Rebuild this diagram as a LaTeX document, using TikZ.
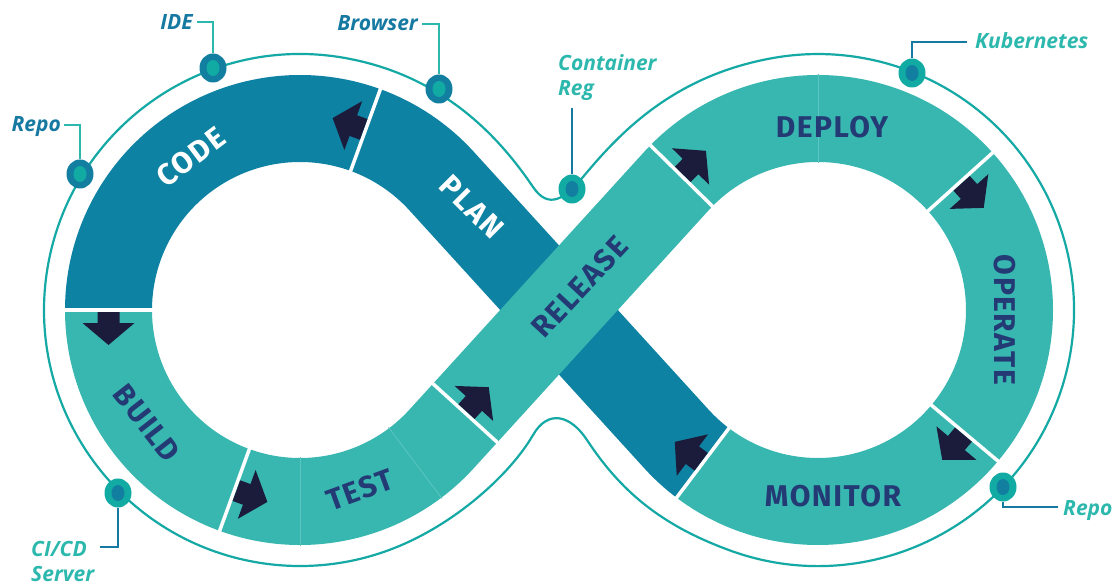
\documentclass[tikz,border=0pt]{standalone}
\usepackage{fontspec}
\newfontfamily\callfont{Open Sans}
\newfontfamily\bandfont{Fira Sans}[LetterSpace=5]
\usetikzlibrary{calc,shapes.geometric}

\definecolor{bandDark}{HTML}{0E82A2}
\definecolor{bandTeal}{HTML}{38B7B1}
\definecolor{seamTeal}{HTML}{5CC5BF}
\definecolor{rimTeal}{HTML}{14A9A4}
\definecolor{labelNavy}{HTML}{233A74}
\definecolor{arrowNavy}{HTML}{1B1C3C}
\definecolor{tagBlue}{HTML}{1679A1}
\definecolor{tagTeal}{HTML}{2DB8AE}
\definecolor{dotDark}{HTML}{127FA1}
\definecolor{dotTeal}{HTML}{11ABA4}

\tikzset{
  band/.style={line width=87pt, line cap=butt},
  darkband/.style={band, draw=bandDark},
  tealband/.style={band, draw=bandTeal},
  divider/.style={draw=white, line width=3.5pt},
  seam/.style={draw=seamTeal, line width=0.8pt},
  rim/.style={draw=rimTeal, line width=2.2pt},
  stagename/.style={font=\bandfont\bfseries\fontsize{30}{30}\selectfont, inner sep=0pt},
  onteal/.style={stagename, text=labelNavy},
  ondark/.style={stagename, text=white},
  tagname/.style={font=\callfont\bfseries\itshape\fontsize{21}{25}\selectfont, inner sep=0pt},
  blueTag/.style={tagname, text=tagBlue},
  tealTag/.style={tagname, text=tagTeal},
  tooldot/.style={ellipse, minimum width=27pt, minimum height=29pt, inner sep=0pt},
  toolA/.style={tooldot, fill=dotDark,
    path picture={\fill[dotTeal] (path picture bounding box.center) ellipse[x radius=6.5, y radius=8];}},
  toolB/.style={tooldot, fill=dotTeal,
    path picture={\fill[dotDark] (path picture bounding box.center) ellipse[x radius=6.5, y radius=8];}},
  leadA/.style={draw=tagTeal, line width=1.8pt},
  leadB/.style={draw=tagBlue, line width=1.8pt},
  flowarrow/.pic={\fill[arrowNavy] (2,-11) -- (13,-11) -- (13,-26) -- (35,0) -- (13,26) -- (13,11) -- (2,11) -- cycle;},
}

\begin{document}
\begin{tikzpicture}[x=1pt, y=-1pt]
  \useasboundingbox (0,0) rectangle (1116,588);
  \fill[white] (0,0) rectangle (1116,588);

  % loop centres and the point where the straight runs leave TEST
  \coordinate (L) at (300,310);
  \coordinate (R) at (818,310);
  \coordinate (T) at (465.16,413.05);

  % thin outer rim around the figure eight
  \draw[rim] (344.5,57.9) arc[start angle=-80, end angle=-290, radius=256]
    .. controls (453.4,526.7) and (510.5,474) .. (533,435)
    .. controls (548,409) and (570.5,415) .. (587,440)
    .. controls (620,490.1) and (659.9,525) .. (730.4,550.6)
    arc[start angle=110, end angle=-100, radius=256]
    .. controls (675,75.3) and (621.4,130.8) .. (583,177)
    .. controls (565.1,198.6) and (548.7,210.2) .. (533,187)
    .. controls (499.4,137.2) and (443,75.3) .. (344.5,57.9) -- cycle;

  % stage bands (PLAN first, RELEASE last so it crosses over)
  \draw[darkband] (702.75,462.94) arc[start angle=127, end angle=137.68, radius=191.5]
    -- (441.59,181.07) arc[start angle=-42.32, end angle=-70, radius=191.5];
  \draw[darkband] (365.50,130.05) arc[start angle=-70, end angle=-180, radius=191.5];
  \draw[tealband] (108.5,310) arc[start angle=-180, end angle=-250, radius=191.5];
  \draw[tealband] (234.50,489.95) arc[start angle=-250, end angle=-317.68, radius=191.5] -- (T);
  \draw[tealband] (681.41,175.77) arc[start angle=224.5, end angle=318, radius=191.5];
  \draw[tealband] (960.31,181.86) arc[start angle=318, end angle=400, radius=191.5];
  \draw[tealband] (964.70,433.09) arc[start angle=40, end angle=127, radius=191.5];
  \draw[tealband] (T) -- (676.41,181.07) arc[start angle=222.32, end angle=224.5, radius=191.5];

  % faint seams inside the teal bands
  \draw[seam] (L) ++(90:147) -- ++(90:89);
  \draw[seam] (L) ++(53:147) -- ++(53:89);
  \draw[seam] (R) ++(-90:147) -- ++(-90:89);

  % white dividers between stages
  \draw[divider] (L) ++(-70:146) -- ++(-70:91);
  \draw[divider] (L) ++(180:146) -- ++(180:91);
  \draw[divider] (L) ++(110:146) -- ++(110:91);
  \draw[divider] ($(T)+(42.32:45.5)$) -- ($(T)+(222.32:45.5)$);
  \draw[divider] (R) ++(224.5:146) -- ++(224.5:91);
  \draw[divider] (R) ++(318:146) -- ++(318:91);
  \draw[divider] (R) ++(40:146) -- ++(40:91);
  \draw[divider] (R) ++(127:146) -- ++(127:91);

  % flow arrows
  \pic[rotate=160] at (365.50,130.05) {flowarrow};
  \pic[rotate=-90] at (108.5,310) {flowarrow};
  \pic[rotate=-20] at (234.50,489.95) {flowarrow};
  \pic[rotate=47.68] at (T) {flowarrow};
  \pic[rotate=45.5] at (681.41,175.77) {flowarrow};
  \pic[rotate=-48] at (960.31,181.86) {flowarrow};
  \pic[rotate=-130] at (964.70,433.09) {flowarrow};
  \pic[rotate=143] at (702.75,462.94) {flowarrow};

  % stage names
  \node[ondark, rotate=37] (code) at (191,157) {CODE};
  \node[ondark, rotate=-45] (plan) at (472,207) {PLAN};
  \node[onteal, rotate=-52] (build) at (147,423) {BUILD};
  \node[onteal, rotate=20] (test) at (360,490) {TEST};
  \node[onteal, rotate=47] (release) at (580,287) {RELEASE};
  \node[onteal] (deploy) at (832,127) {DEPLOY};
  \node[onteal, rotate=-90] (operate) at (1005,320) {OPERATE};
  \node[onteal] (monitor) at (833,496) {MONITOR};

  % tool markers on the rim
  \node[toolA] (ide) at (213,68) {};
  \node[toolA] (repo) at (80,174) {};
  \node[toolA] (browser) at (439,89) {};
  \node[toolB] (reg) at (572,189) {};
  \node[toolB] (kube) at (912,73) {};
  \node[toolB] (repo2) at (1003,487) {};
  \node[toolB] (cicd) at (118,493) {};

  % tool names
  \node[blueTag, anchor=base east] (ideT) at (193,30) {IDE};
  \node[blueTag, anchor=base east] (browserT) at (418,31) {Browser};
  \node[blueTag, anchor=base east] (repoT) at (61,132) {Repo};
  \node[tealTag, anchor=north west, align=left] (regT) at (558,54) {Container\\Reg};
  \node[tealTag, anchor=base west] (kubeT) at (975,49) {Kubernetes};
  \node[tealTag, anchor=base west] (repoT2) at (1063,515) {Repo};
  \node[tealTag, anchor=north west, align=left] (cicdT) at (31,541) {CI/CD\\Server};

  % leader lines from names to markers
  \coordinate (cicdEnd) at (100,547);
  \draw[leadA] ([xshift=4pt,yshift=8pt]ideT.base east) -| (ide);
  \draw[leadA] ([xshift=4pt,yshift=7pt]browserT.base east) -| (browser);
  \draw[leadA] ([xshift=3pt,yshift=7pt]repoT.base east) -| (repo);
  \draw[leadB] (reg.north) -- ++(0,-66);
  \draw[leadB] ([xshift=-8pt,yshift=7pt]kubeT.base west) -| (kube);
  \draw[leadB] ([xshift=-5pt,yshift=8pt]repoT2.base west) -| (repo2);
  \draw[leadB] (cicdEnd) -| (cicd);
\end{tikzpicture}
\end{document}
